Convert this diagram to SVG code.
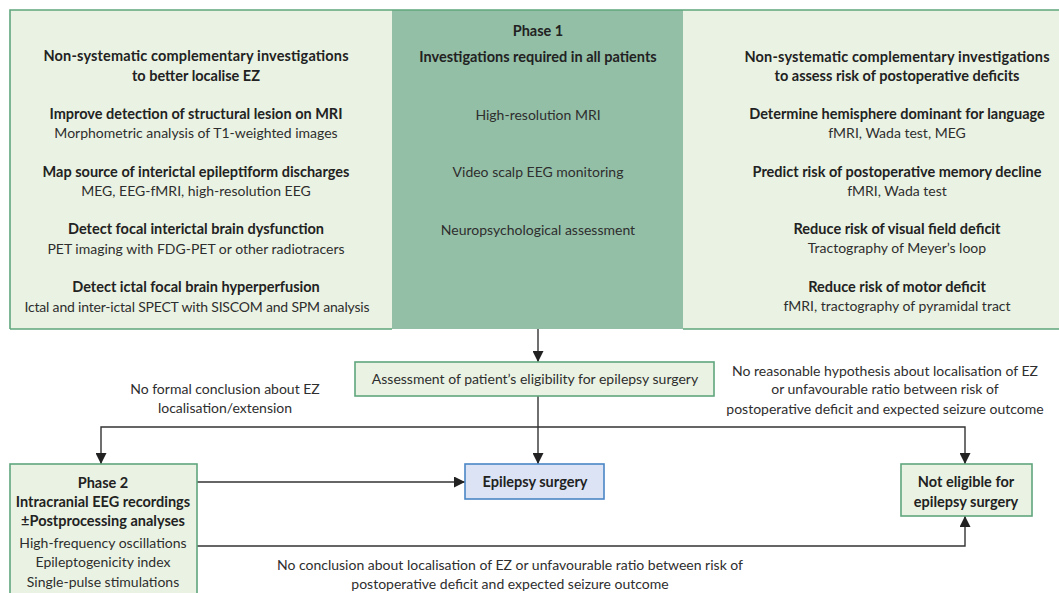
<svg xmlns="http://www.w3.org/2000/svg" width="1059" height="593" viewBox="0 0 1059 593">
  <style>
    text { font-family: Lato, "Open Sans", sans-serif; font-size: 14px; fill: #2e2e2e; text-anchor: middle; }
    .b { font-weight: bold; font-size: 14.5px; fill: #222; }
    .panel { fill: #eaf3e3; }
    .box { fill: #eaf3e3; stroke: #5fa67c; stroke-width: 1.6; }
    .core { fill: #94bfa7; }
    .surg { fill: #dbe3f4; stroke: #4a86c6; stroke-width: 1.6; }
    .edge { fill: none; stroke: #333; stroke-width: 1.4; }
  </style>
  <defs>
    <marker id="arr" viewBox="0 0 10 10" refX="10" refY="5" markerWidth="11" markerHeight="11" markerUnits="userSpaceOnUse" orient="auto">
      <path d="M0,0 L10,5 L0,10 Z" fill="#222"/>
    </marker>
  </defs>

  <!-- Phase 1 panel -->
  <g id="phase1">
    <rect class="panel" x="10" y="10" width="1060" height="319"/>
    <rect class="core" x="392" y="10" width="291" height="319"/>
    <path d="M10,329 V10 H1060 M10,329 H392 M683,329 H1060" fill="none" stroke="#5fa67c" stroke-width="1.6"/>
  </g>

  <g id="localise">
    <text x="196" y="61" class="b" textLength="305">Non-systematic complementary investigations</text>
    <text x="196" y="81" class="b">to better localise EZ</text>
    <text x="196" y="119" class="b">Improve detection of structural lesion on MRI</text>
    <text x="196" y="138">Morphometric analysis of T1-weighted images</text>
    <text x="196" y="177" class="b">Map source of interictal epileptiform discharges</text>
    <text x="196" y="196">MEG, EEG-fMRI, high-resolution EEG</text>
    <text x="196" y="234" class="b">Detect focal interictal brain dysfunction</text>
    <text x="196" y="254">PET imaging with FDG-PET or other radiotracers</text>
    <text x="196" y="292" class="b">Detect ictal focal brain hyperperfusion</text>
    <text x="197" y="312" textLength="345">Ictal and inter-ictal SPECT with SISCOM and SPM analysis</text>
  </g>

  <g id="required">
    <text x="538" y="36" class="b">Phase 1</text>
    <text x="538" y="62" class="b">Investigations required in all patients</text>
    <text x="538" y="120">High-resolution MRI</text>
    <text x="538" y="177">Video scalp EEG monitoring</text>
    <text x="538" y="235">Neuropsychological assessment</text>
  </g>

  <g id="deficits">
    <text x="897" y="62" class="b" textLength="305">Non-systematic complementary investigations</text>
    <text x="897" y="81" class="b">to assess risk of postoperative deficits</text>
    <text x="897" y="119" class="b">Determine hemisphere dominant for language</text>
    <text x="897" y="138">fMRI, Wada test, MEG</text>
    <text x="897" y="177" class="b">Predict risk of postoperative memory decline</text>
    <text x="897" y="196">fMRI, Wada test</text>
    <text x="897" y="234" class="b">Reduce risk of visual field deficit</text>
    <text x="897" y="253">Tractography of Meyer’s loop</text>
    <text x="897" y="292" class="b">Reduce risk of motor deficit</text>
    <text x="897" y="311">fMRI, tractography of pyramidal tract</text>
  </g>

  <!-- Connectors -->
  <g id="connectors">
    <path class="edge" d="M538,329 V362" marker-end="url(#arr)"/>
    <path class="edge" d="M538,396 V464" marker-end="url(#arr)"/>
    <path class="edge" d="M538,427 H101 V464" marker-end="url(#arr)"/>
    <path class="edge" d="M538,427 H965 V464" marker-end="url(#arr)"/>
    <path class="edge" d="M197,482 H465" marker-end="url(#arr)"/>
    <path class="edge" d="M197,546 H965 V516" marker-end="url(#arr)"/>
    <text x="225" y="394">No formal conclusion about EZ</text>
    <text x="225" y="413">localisation/extension</text>
    <text x="885" y="376">No reasonable hypothesis about localisation of EZ</text>
    <text x="885" y="394">or unfavourable ratio between risk of</text>
    <text x="885" y="414">postoperative deficit and expected seizure outcome</text>
    <text x="510" y="570">No conclusion about localisation of EZ or unfavourable ratio between risk of</text>
    <text x="510" y="589">postoperative deficit and expected seizure outcome</text>
  </g>

  <g id="assessment">
    <rect class="box" x="355" y="362" width="359" height="34"/>
    <text x="535" y="384">Assessment of patient’s eligibility for epilepsy surgery</text>
  </g>

  <g id="surgery">
    <rect class="surg" x="465" y="464" width="139" height="35"/>
    <text x="535" y="487" class="b">Epilepsy surgery</text>
  </g>

  <g id="not-eligible">
    <rect class="box" x="901" y="464" width="131" height="52"/>
    <text x="966" y="487" class="b">Not eligible for</text>
    <text x="966" y="507" class="b">epilepsy surgery</text>
  </g>

  <g id="phase2">
    <rect class="box" x="10" y="464" width="187" height="140"/>
    <text x="103" y="488" class="b">Phase 2</text>
    <text x="103" y="507" class="b">Intracranial EEG recordings</text>
    <text x="103" y="526" class="b">±Postprocessing analyses</text>
    <text x="103" y="548">High-frequency oscillations</text>
    <text x="103" y="567">Epileptogenicity index</text>
    <text x="103" y="587">Single-pulse stimulations</text>
  </g>
</svg>
